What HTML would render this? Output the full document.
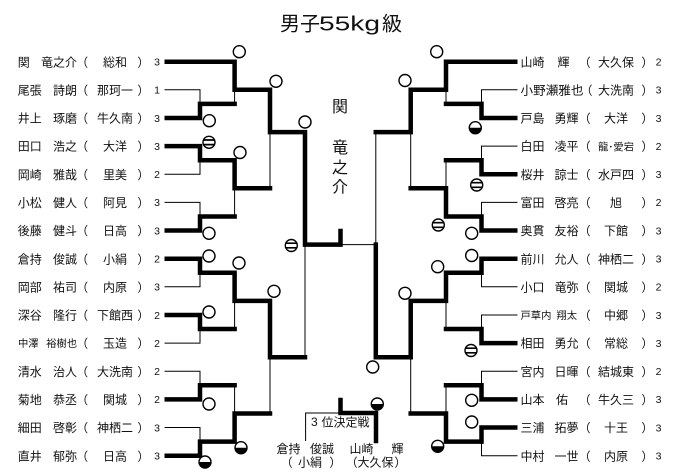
<!DOCTYPE html>
<html><head><meta charset="utf-8">
<style>
html,body{margin:0;padding:0;background:#fff;}
svg{display:block;}
.t{font-family:"Liberation Sans","Noto Sans CJK JP",sans-serif;font-size:12px;fill:#111;}
.sm{font-size:10.3px;}
.s{font-family:"Liberation Sans",sans-serif;font-size:10.5px;fill:#111;}
.thk{fill:none;stroke:#000;stroke-width:4.5;stroke-linecap:square;stroke-linejoin:miter;}
.thn{fill:none;stroke:#000;stroke-width:1;}
</style></head>
<body>
<svg width="676" height="472" viewBox="0 0 676 472" xmlns="http://www.w3.org/2000/svg">
<defs>
<g id="o"><circle r="6" fill="#fff" stroke="#000" stroke-width="1.4"/></g>
<g id="e"><circle r="6" fill="#fff" stroke="#000" stroke-width="1.4"/><path d="M-5.5,-2.3H5.5M-5.5,2.3H5.5" stroke="#000" stroke-width="1.7"/></g>
<g id="h"><circle r="6" fill="#fff"/><path d="M-6,0A6,6 0 0 0 6,0Z" fill="#000"/><circle r="6" fill="none" stroke="#000" stroke-width="1.4"/></g>
</defs>

<!-- Title -->
<text class="t" x="280" y="30.5" style="font-size:20px">男子</text>
<text x="319" y="30.5" textLength="61" lengthAdjust="spacingAndGlyphs" style="font-family:'Liberation Sans',sans-serif;font-size:20px;fill:#111">55kg</text>
<text class="t" x="382" y="30.5" style="font-size:20px">級</text>

<!-- Thin lines left -->
<path class="thn" d="M164.5,89.8H200V103.9 M234.6,89.8V103.9
M164.5,174.3H200V160.2 M164.5,202.4H200V216.5 M234.6,188.3V216.5 M270,132.1V188.3
M164.5,286.8H200V272.8 M164.5,343.1H200V329 M234.6,300.9V329 M305,244.6V357.2
M164.5,371.2H200V385.3 M164.5,427.5H200V441.6 M234.6,385.3V413.5 M270,357.2V413.5"/>
<!-- Thin lines right -->
<path class="thn" d="M517.5,89.8H481.5V103.9 M446,89.8V103.9
M517.5,146.1H481.5V160.2 M446,160.2V188.3 M410.7,132.1V188.3
M517.5,202.4H481.5V216.5 M375.8,132.1V244.6 M340.5,244.6H375.8
M517.5,286.8H481.5V272.8 M517.5,315H481.5V329 M446,300.9V329
M517.5,371.2H481.5V385.3 M446,385.3V413.5 M410.7,357.2V413.5
M517.5,455.7H481.5V441.6"/>
<!-- 3rd place thin -->
<path class="thn" d="M305.6,441V413H340.5"/>

<!-- Thick lines left -->
<path class="thk" d="M166.75,61.7H234.6V89.8H270V132.1H305V244.6H340.5V231"/>
<path class="thk" d="M166.75,118H200V103.9H234.6"/>
<path class="thk" d="M166.75,146.1H200V160.2H234.6V188.3H270"/>
<path class="thk" d="M166.75,230.5H200V216.5H234.6"/>
<path class="thk" d="M166.75,258.7H200V272.8H234.6V300.9H270V357.2H305"/>
<path class="thk" d="M166.75,315H200V329H234.6"/>
<path class="thk" d="M166.75,399.4H200V385.3H234.6"/>
<path class="thk" d="M166.75,455.7H200V441.6H234.6V413.5H270"/>
<!-- Thick lines right -->
<path class="thk" d="M515.25,61.7H446V89.8H410.7V132.1H375.8"/>
<path class="thk" d="M515.25,118H481.5V103.9H446"/>
<path class="thk" d="M515.25,174.3H481.5V160.2H446"/>
<path class="thk" d="M515.25,230.5H481.5V216.5H446V188.3H410.7"/>
<path class="thk" d="M515.25,258.7H481.5V272.8H446V300.9H410.7V357.2H375.8V244.6"/>
<path class="thk" d="M515.25,343.1H481.5V329H446"/>
<path class="thk" d="M515.25,399.4H481.5V385.3H446"/>
<path class="thk" d="M515.25,427.5H481.5V441.6H446V413.5H410.7"/>
<!-- 3rd place thick -->
<path class="thk" d="M376,441V413H340.5V400"/>

<!-- Markers left -->
<use href="#o" x="239.3" y="51.7"/>
<use href="#o" x="276" y="81.3"/>
<use href="#o" x="305" y="122"/>
<use href="#o" x="209.3" y="120.7"/>
<use href="#e" x="209" y="142.3"/>
<use href="#o" x="240" y="152.5"/>
<use href="#o" x="209" y="233.3"/>
<use href="#e" x="291.3" y="245.5"/>
<use href="#o" x="209" y="256"/>
<use href="#o" x="239" y="263"/>
<use href="#o" x="274" y="291.3"/>
<use href="#o" x="209" y="312"/>
<use href="#o" x="209" y="404"/>
<use href="#h" x="241" y="447.7"/>
<use href="#h" x="205" y="462"/>
<!-- Markers right -->
<use href="#o" x="436.7" y="51.7"/>
<use href="#o" x="405" y="80.5"/>
<use href="#h" x="475.3" y="127.7"/>
<use href="#e" x="476.7" y="185"/>
<use href="#e" x="438.3" y="225"/>
<use href="#o" x="471.7" y="233.3"/>
<use href="#o" x="471.7" y="255.5"/>
<use href="#o" x="437.7" y="266.7"/>
<use href="#o" x="405" y="293.3"/>
<use href="#o" x="372.7" y="367"/>
<use href="#e" x="471" y="350.5"/>
<use href="#o" x="471.7" y="400.3"/>
<use href="#o" x="471.7" y="422"/>
<use href="#h" x="437.7" y="446.3"/>
<use href="#h" x="377.3" y="404"/>

<!-- Center winner name -->
<g class="t" style="font-size:16px" text-anchor="middle">
<text x="340" y="112">関</text>
<text x="340" y="153.2">竜</text>
<text x="340" y="173.2">之</text>
<text x="340" y="192.5">介</text>
</g>

<!-- 3rd place -->
<text class="s" x="311" y="426" style="font-size:12px">3</text>
<text class="t" x="321.5" y="426.4">位決定戦</text>
<text class="t" x="276.5" y="453">倉持</text>
<text class="t" x="310" y="453">俊誠</text>
<text class="t" x="349.5" y="453">山崎</text>
<text class="t" x="391.5" y="453">輝</text>
<text class="t" x="280.6" y="466.4">（</text>
<text class="t" x="310" y="466.4" text-anchor="middle">小絹</text>
<text class="t" x="329.4" y="466.4">）</text>
<text class="t" x="345.6" y="466.4">（</text>
<text class="t" x="375.5" y="466.4" text-anchor="middle">大久保</text>
<text class="t" x="394.4" y="466.4">）</text>

<!-- Left entries -->
<g class="t">
<text x="17.8" y="66.3">関</text><text x="77" y="66.3" text-anchor="end">竜之介</text><text x="76.1" y="66.3">（</text><text x="115" y="66.3" text-anchor="middle">総和</text><text x="137.4" y="66.3">）</text>
<text x="17.8" y="94.4">尾張</text><text x="77" y="94.4" text-anchor="end">詩朗</text><text x="76.1" y="94.4">（</text><text x="115" y="94.4" text-anchor="middle">那珂一</text><text x="137.4" y="94.4">）</text>
<text x="17.8" y="122.6">井上</text><text x="77" y="122.6" text-anchor="end">琢磨</text><text x="76.1" y="122.6">（</text><text x="115" y="122.6" text-anchor="middle">牛久南</text><text x="137.4" y="122.6">）</text>
<text x="17.8" y="150.7">田口</text><text x="77" y="150.7" text-anchor="end">浩之</text><text x="76.1" y="150.7">（</text><text x="115" y="150.7" text-anchor="middle">大洋</text><text x="137.4" y="150.7">）</text>
<text x="17.8" y="178.9">岡崎</text><text x="77" y="178.9" text-anchor="end">雅哉</text><text x="76.1" y="178.9">（</text><text x="115" y="178.9" text-anchor="middle">里美</text><text x="137.4" y="178.9">）</text>
<text x="17.8" y="207">小松</text><text x="77" y="207" text-anchor="end">健人</text><text x="76.1" y="207">（</text><text x="115" y="207" text-anchor="middle">阿見</text><text x="137.4" y="207">）</text>
<text x="17.8" y="235.1">後藤</text><text x="77" y="235.1" text-anchor="end">健斗</text><text x="76.1" y="235.1">（</text><text x="115" y="235.1" text-anchor="middle">日高</text><text x="137.4" y="235.1">）</text>
<text x="17.8" y="263.3">倉持</text><text x="77" y="263.3" text-anchor="end">俊誠</text><text x="76.1" y="263.3">（</text><text x="115" y="263.3" text-anchor="middle">小絹</text><text x="137.4" y="263.3">）</text>
<text x="17.8" y="291.4">岡部</text><text x="77" y="291.4" text-anchor="end">祐司</text><text x="76.1" y="291.4">（</text><text x="115" y="291.4" text-anchor="middle">内原</text><text x="137.4" y="291.4">）</text>
<text x="17.8" y="319.6">深谷</text><text x="77" y="319.6" text-anchor="end">隆行</text><text x="76.1" y="319.6">（</text><text x="115" y="319.6" text-anchor="middle">下館西</text><text x="137.4" y="319.6">）</text>
<text class="sm" x="18" y="347.2">中澤</text><text class="sm" x="77" y="347.2" text-anchor="end">裕樹也</text><text x="76.1" y="347.7">（</text><text x="115" y="347.7" text-anchor="middle">玉造</text><text x="137.4" y="347.7">）</text>
<text x="17.8" y="375.8">清水</text><text x="77" y="375.8" text-anchor="end">治人</text><text x="76.1" y="375.8">（</text><text x="115" y="375.8" text-anchor="middle">大洗南</text><text x="137.4" y="375.8">）</text>
<text x="17.8" y="404">菊地</text><text x="77" y="404" text-anchor="end">恭丞</text><text x="76.1" y="404">（</text><text x="115" y="404" text-anchor="middle">関城</text><text x="137.4" y="404">）</text>
<text x="17.8" y="432.1">細田</text><text x="77" y="432.1" text-anchor="end">啓彰</text><text x="76.1" y="432.1">（</text><text x="115" y="432.1" text-anchor="middle">神栖二</text><text x="137.4" y="432.1">）</text>
<text x="17.8" y="460.3">直井</text><text x="77" y="460.3" text-anchor="end">郁弥</text><text x="76.1" y="460.3">（</text><text x="115" y="460.3" text-anchor="middle">日高</text><text x="137.4" y="460.3">）</text>
</g>
<g class="s" text-anchor="middle">
<text x="157" y="65.5">3</text><text x="157" y="93.6">1</text><text x="157" y="121.8">3</text><text x="157" y="149.9">3</text><text x="157" y="178.1">2</text><text x="157" y="206.2">3</text><text x="157" y="234.3">3</text><text x="157" y="262.5">2</text><text x="157" y="290.6">3</text><text x="157" y="318.8">2</text><text x="157" y="346.9">2</text><text x="157" y="375">2</text><text x="157" y="403.2">2</text><text x="157" y="431.3">3</text><text x="157" y="459.5">3</text>
</g>

<!-- Right entries -->
<g class="t">
<text x="520.5" y="66.3">山崎</text><text x="557.5" y="66.3">輝</text><text x="578.6" y="66.3">（</text><text x="616" y="66.3" text-anchor="middle">大久保</text><text x="641.4" y="66.3">）</text>
<text x="520.5" y="94.4" textLength="63" lengthAdjust="spacingAndGlyphs">小野瀬雅也</text><text x="580.5" y="94.4">（</text><text x="616" y="94.4" text-anchor="middle">大洗南</text><text x="641.4" y="94.4">）</text>
<text x="520.5" y="122.6">戸島</text><text x="578.5" y="122.6" text-anchor="end">勇輝</text><text x="578.6" y="122.6">（</text><text x="616" y="122.6" text-anchor="middle">大洋</text><text x="641.4" y="122.6">）</text>
<text x="520.5" y="150.7">白田</text><text x="578.5" y="150.7" text-anchor="end">凌平</text><text x="578.6" y="150.7">（</text><text class="sm" x="616" y="150.3" text-anchor="middle">龍･愛宕</text><text x="641.4" y="150.7">）</text>
<text x="520.5" y="178.9">桜井</text><text x="578.5" y="178.9" text-anchor="end">諒士</text><text x="578.6" y="178.9">（</text><text x="616" y="178.9" text-anchor="middle">水戸四</text><text x="641.4" y="178.9">）</text>
<text x="520.5" y="207">富田</text><text x="578.5" y="207" text-anchor="end">啓亮</text><text x="578.6" y="207">（</text><text x="616" y="207" text-anchor="middle">旭</text><text x="641.4" y="207">）</text>
<text x="520.5" y="235.1">奥貫</text><text x="578.5" y="235.1" text-anchor="end">友裕</text><text x="578.6" y="235.1">（</text><text x="616" y="235.1" text-anchor="middle">下館</text><text x="641.4" y="235.1">）</text>
<text x="520.5" y="263.3">前川</text><text x="578.5" y="263.3" text-anchor="end">允人</text><text x="578.6" y="263.3">（</text><text x="616" y="263.3" text-anchor="middle">神栖二</text><text x="641.4" y="263.3">）</text>
<text x="520.5" y="291.4">小口</text><text x="578.5" y="291.4" text-anchor="end">竜弥</text><text x="578.6" y="291.4">（</text><text x="616" y="291.4" text-anchor="middle">関城</text><text x="641.4" y="291.4">）</text>
<text class="sm" x="520.5" y="319.2">戸草内</text><text class="sm" x="577" y="319.2" text-anchor="end">翔太</text><text x="578.6" y="319.6">（</text><text x="616" y="319.6" text-anchor="middle">中郷</text><text x="641.4" y="319.6">）</text>
<text x="520.5" y="347.7">相田</text><text x="578.5" y="347.7" text-anchor="end">勇允</text><text x="578.6" y="347.7">（</text><text x="616" y="347.7" text-anchor="middle">常総</text><text x="641.4" y="347.7">）</text>
<text x="520.5" y="375.8">宮内</text><text x="578.5" y="375.8" text-anchor="end">日暉</text><text x="578.6" y="375.8">（</text><text x="616" y="375.8" text-anchor="middle">結城東</text><text x="641.4" y="375.8">）</text>
<text x="520.5" y="404">山本</text><text x="556" y="404">佑</text><text x="578.6" y="404">（</text><text x="616" y="404" text-anchor="middle">牛久三</text><text x="641.4" y="404">）</text>
<text x="520.5" y="432.1">三浦</text><text x="578.5" y="432.1" text-anchor="end">拓夢</text><text x="578.6" y="432.1">（</text><text x="616" y="432.1" text-anchor="middle">十王</text><text x="641.4" y="432.1">）</text>
<text x="520.5" y="460.3">中村</text><text x="578.5" y="460.3" text-anchor="end">一世</text><text x="578.6" y="460.3">（</text><text x="616" y="460.3" text-anchor="middle">内原</text><text x="641.4" y="460.3">）</text>
</g>
<g class="s" text-anchor="middle">
<text x="658.5" y="65.5">2</text><text x="658.5" y="93.6">3</text><text x="658.5" y="121.8">3</text><text x="658.5" y="149.9">2</text><text x="658.5" y="178.1">3</text><text x="658.5" y="206.2">2</text><text x="658.5" y="234.3">3</text><text x="658.5" y="262.5">3</text><text x="658.5" y="290.6">2</text><text x="658.5" y="318.8">3</text><text x="658.5" y="346.9">3</text><text x="658.5" y="375">2</text><text x="658.5" y="403.2">3</text><text x="658.5" y="431.3">3</text><text x="658.5" y="459.5">3</text>
</g>
</svg>
</body></html>
